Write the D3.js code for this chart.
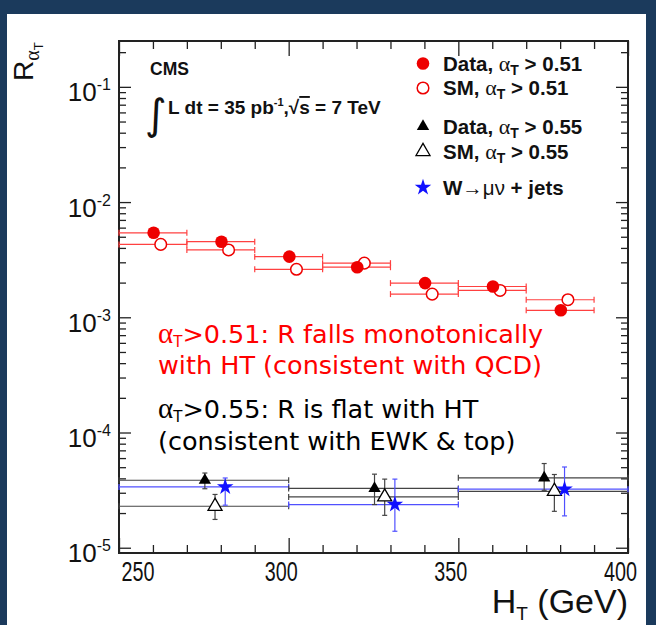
<!DOCTYPE html>
<html>
<head>
<meta charset="utf-8">
<script src="https://cdn.jsdelivr.net/npm/d3@7"></script>
<style>
  body { margin: 0; background: #1b3a5c; }
  svg { display: block; }
</style>
</head>
<body>
<div id="chart"></div>
<script>
// HT binning and R(alphaT) values
const binEdges51 = [250, 270, 290, 310, 330, 350, 370, 390];
const data51 = [5.41e-3, 4.53e-3, 3.36e-3, 2.72e-3, 1.98e-3, 1.85e-3, 1.15e-3];
const sm51 = [4.29e-3, 3.84e-3, 2.61e-3, 2.95e-3, 1.59e-3, 1.71e-3, 1.42e-3];

const binEdges55 = [250, 300, 350, 400];
const data55 = [3.85e-5, 3.27e-5, 4.04e-5];
const data55Hi = [4.45e-5, 4.35e-5, 5.38e-5];
const data55Lo = [3.25e-5, 2.37e-5, 3.15e-5];
const sm55 = [2.29e-5, 2.76e-5, 3.09e-5];
const sm55Hi = [2.90e-5, 3.94e-5, 4.32e-5];
const sm55Lo = [1.76e-5, 1.91e-5, 2.07e-5];
const wjets = [3.37e-5, 2.37e-5, 3.22e-5];
const wjetsHi = [4.03e-5, 3.94e-5, 5.02e-5];
const wjetsLo = [2.34e-5, 1.39e-5, 1.89e-5];

const xTicks = [250, 300, 350, 400];
const yDecades = [1e-5, 1e-4, 1e-3, 1e-2, 1e-1];
const yExponents = ['-5', '-4', '-3', '-2', '-1'];

const legendLabels = [
  {pre: 'Data, ', cut: ' > 0.51'},
  {pre: 'SM, ', cut: ' > 0.51'},
  {pre: 'Data, ', cut: ' > 0.55'},
  {pre: 'SM, ', cut: ' > 0.55'},
  {pre: 'W\u2192\u03bc\u03bd + jets', cut: null}
];

const W = 656, H = 625;
const plot = { left: 119, right: 628, top: 41, bottom: 553 };
const yMin = 9e-6, yMax = 0.25;

const RED = '#ee0000', BLUE = '#1010ff';
const helv = '"Liberation Sans", Arial, Helvetica, sans-serif';
const noteFont = '"DejaVu Sans", Verdana, sans-serif';

const svg = d3.select('#chart').append('svg')
  .attr('width', W)
  .attr('height', H);

// white slide panel
svg.append('rect')
  .attr('x', 7).attr('y', 14)
  .attr('width', 639).attr('height', H - 14)
  .attr('fill', '#fff');

const x = d3.scaleLinear().domain([250, 400]).range([plot.left, plot.right]);
const y = d3.scaleLog().domain([yMin, yMax]).range([plot.bottom, plot.top]);

// minor tick positions
const xMinor = d3.range(260, 400, 10).filter(v => v % 50 !== 0);
const yMinor = [];
for (let e = -6; e <= -1; e++) {
  for (let k = 2; k <= 9; k++) {
    const v = k * Math.pow(10, e);
    if (v > yMin && v < yMax) yMinor.push(v);
  }
}

function drawAxis(axis, transform) {
  const g = svg.append('g').attr('transform', transform).call(axis);
  g.select('.domain').remove();
  g.selectAll('.tick line').attr('stroke', '#222').attr('stroke-width', 1.3);
  return g;
}

// bottom axis
const xAxisGroup = drawAxis(
  d3.axisBottom(x).tickValues(xTicks).tickSize(-15).tickPadding(8).tickFormat(d3.format('d')),
  `translate(0,${plot.bottom})`);
drawAxis(d3.axisBottom(x).tickValues(xMinor).tickSize(-8).tickFormat(''), `translate(0,${plot.bottom})`);

xAxisGroup.selectAll('text')
  .attr('fill', '#111')
  .style('font-family', helv)
  .style('font-size', '28px')
  .attr('textLength', 33)
  .attr('lengthAdjust', 'spacingAndGlyphs')
  .attr('text-anchor', (d, i) => i === 0 ? 'start' : 'middle')
  .attr('dx', (d, i) => i === 0 ? 2 : -8);

// top axis (ticks only)
drawAxis(d3.axisTop(x).tickValues(xTicks).tickSize(-15).tickFormat(''), `translate(0,${plot.top})`);
drawAxis(d3.axisTop(x).tickValues(xMinor).tickSize(-8).tickFormat(''), `translate(0,${plot.top})`);

// left axis
const yAxisGroup = drawAxis(
  d3.axisLeft(y).tickValues(yDecades).tickSize(-12).tickPadding(8).tickFormat(''),
  `translate(${plot.left},0)`);
drawAxis(d3.axisLeft(y).tickValues(yMinor).tickSize(-7).tickFormat(''), `translate(${plot.left},0)`);

yAxisGroup.selectAll('text').each(function(d, i) {
  const t = d3.select(this)
    .attr('dy', null)
    .attr('y', 14)
    .attr('x', -8)
    .attr('text-anchor', 'end')
    .attr('fill', '#111')
    .style('font-family', helv);
  t.append('tspan').style('font-size', '26px').text('10');
  t.append('tspan').style('font-size', '16px').attr('dy', -11).text(yExponents[i]);
});

// right axis (ticks only)
drawAxis(d3.axisRight(y).tickValues(yDecades).tickSize(-12).tickFormat(''), `translate(${plot.right},0)`);
drawAxis(d3.axisRight(y).tickValues(yMinor).tickSize(-7).tickFormat(''), `translate(${plot.right},0)`);

// frame
svg.append('rect')
  .attr('x', plot.left).attr('y', plot.top)
  .attr('width', plot.right - plot.left).attr('height', plot.bottom - plot.top)
  .attr('fill', 'none')
  .attr('stroke', '#222')
  .attr('stroke-width', 2);

// axis titles
const xTitle = svg.append('text')
  .attr('x', plot.right).attr('y', 613)
  .attr('text-anchor', 'end')
  .attr('fill', '#111')
  .style('font-family', helv)
  .style('font-size', '34px');
xTitle.append('tspan').text('H');
xTitle.append('tspan').attr('dy', 7).style('font-size', '19px').text('T');
xTitle.append('tspan').attr('dy', -7).text(' (GeV)');

const yTitle = svg.append('text')
  .attr('transform', 'translate(33,81) rotate(-90)')
  .attr('text-anchor', 'start')
  .attr('fill', '#111')
  .style('font-family', helv)
  .style('font-size', '28px');
yTitle.append('tspan').text('R');
yTitle.append('tspan').attr('dy', 6).style('font-size', '20px')
  .style('font-family', '"Liberation Serif", serif').text('\u03b1');
yTitle.append('tspan').attr('dy', 4).style('font-size', '13px').text('T');

// ---- error bars and markers ----
const layer = svg.append('g');

function hBar(lo, hi, v, color, width) {
  const yy = y(v);
  layer.append('line')
    .attr('x1', x(lo)).attr('x2', x(hi)).attr('y1', yy).attr('y2', yy)
    .attr('stroke', color).attr('stroke-width', width);
  [lo, hi].forEach(e => {
    layer.append('line')
      .attr('x1', x(e)).attr('x2', x(e)).attr('y1', yy - 3).attr('y2', yy + 3)
      .attr('stroke', color).attr('stroke-width', width);
  });
}

function vBar(xv, lo, hi, color) {
  layer.append('line')
    .attr('x1', x(xv)).attr('x2', x(xv)).attr('y1', y(lo)).attr('y2', y(hi))
    .attr('stroke', color).attr('stroke-width', 1.2);
  [lo, hi].forEach(e => {
    layer.append('line')
      .attr('x1', x(xv) - 2.5).attr('x2', x(xv) + 2.5).attr('y1', y(e)).attr('y2', y(e))
      .attr('stroke', color).attr('stroke-width', 1.2);
  });
}

const triangle = d3.symbol().type(d3.symbolTriangle);
const star = d3.symbol().type(d3.symbolStar).size(85);

// alphaT > 0.51 series
const bins51 = data51.map((v, i) => ({ lo: binEdges51[i], hi: binEdges51[i + 1], data: v, sm: sm51[i] }));
bins51.forEach(b => {
  hBar(b.lo, b.hi, b.data, '#ff4040', 1.2);
  hBar(b.lo, b.hi, b.sm, '#ff4040', 1.2);
});
layer.selectAll('.sm51')
  .data(bins51)
  .join('circle')
  .attr('class', 'sm51')
  .attr('cx', d => x((d.lo + d.hi) / 2 + 2.3))
  .attr('cy', d => y(d.sm))
  .attr('r', 5.8)
  .attr('fill', '#fff')
  .attr('stroke', RED)
  .attr('stroke-width', 1.5);
layer.selectAll('.data51')
  .data(bins51)
  .join('circle')
  .attr('class', 'data51')
  .attr('cx', d => x((d.lo + d.hi) / 2 + 0.2))
  .attr('cy', d => y(d.data))
  .attr('r', 6.3)
  .attr('fill', RED);

// alphaT > 0.55 series and W -> mu nu
const bins55 = data55.map((v, i) => ({
  lo: binEdges55[i], hi: binEdges55[i + 1], c: (binEdges55[i] + binEdges55[i + 1]) / 2,
  data: v, dataHi: data55Hi[i], dataLo: data55Lo[i],
  sm: sm55[i], smHi: sm55Hi[i], smLo: sm55Lo[i],
  w: wjets[i], wHi: wjetsHi[i], wLo: wjetsLo[i]
}));
bins55.forEach(b => {
  hBar(b.lo, b.hi, b.data, '#444', 1.2);
  hBar(b.lo, b.hi, b.sm, '#444', 1.2);
  hBar(b.lo, b.hi, b.w, '#5050ff', 1.3);
  vBar(b.c + 0.3, b.dataLo, b.dataHi, '#444');
  vBar(b.c + 3.3, b.smLo, b.smHi, '#444');
  vBar(b.c + 6.3, b.wLo, b.wHi, '#5050ff');
});
layer.selectAll('.data55')
  .data(bins55)
  .join('path')
  .attr('class', 'data55')
  .attr('transform', d => `translate(${x(d.c + 0.3)},${y(d.data)})`)
  .attr('d', triangle.size(66)())
  .attr('fill', '#000');
layer.selectAll('.sm55')
  .data(bins55)
  .join('path')
  .attr('class', 'sm55')
  .attr('transform', d => `translate(${x(d.c + 3.3)},${y(d.sm)})`)
  .attr('d', triangle.size(85)())
  .attr('fill', '#fff')
  .attr('stroke', '#000')
  .attr('stroke-width', 1.3);
layer.selectAll('.wjets')
  .data(bins55)
  .join('path')
  .attr('class', 'wjets')
  .attr('transform', d => `translate(${x(d.c + 6.3)},${y(d.w)})`)
  .attr('d', star())
  .attr('fill', BLUE);

// ---- legend ----
const legendRows = [63.5, 88, 126.5, 151.5, 187.5];
const legend = svg.append('g');
legend.append('circle').attr('cx', 423).attr('cy', legendRows[0]).attr('r', 6.3).attr('fill', RED);
legend.append('circle').attr('cx', 423).attr('cy', legendRows[1]).attr('r', 5.8)
  .attr('fill', '#fff').attr('stroke', RED).attr('stroke-width', 1.5);
legend.append('path').attr('transform', `translate(423,${legendRows[2]})`)
  .attr('d', triangle.size(66)()).attr('fill', '#000');
legend.append('path').attr('transform', `translate(423,${legendRows[3]})`)
  .attr('d', triangle.size(85)()).attr('fill', '#fff').attr('stroke', '#000').attr('stroke-width', 1.3);
legend.append('path').attr('transform', `translate(423,${legendRows[4]})`)
  .attr('d', star()).attr('fill', BLUE);

legendLabels.forEach((l, i) => {
  const t = legend.append('text')
    .attr('x', 443).attr('y', legendRows[i] + 7)
    .attr('fill', '#111')
    .style('font-family', helv)
    .style('font-weight', 'bold')
    .style('font-size', '20.5px');
  if (l.cut === null) {
    t.append('tspan').text('W');
    t.append('tspan').style('font-weight', 'normal').text('\u2192\u03bc\u03bd');
    t.append('tspan').text(' + jets');
  } else {
    t.append('tspan').text(l.pre);
    t.append('tspan').style('font-weight', 'normal').style('font-family', '"Liberation Serif", serif')
      .style('font-size', '22px').text('\u03b1');
    t.append('tspan').attr('dy', 4).style('font-size', '14px').text('T');
    t.append('tspan').attr('dy', -4).text(l.cut);
  }
});

// ---- CMS label ----
svg.append('text')
  .attr('x', 150).attr('y', 75)
  .attr('fill', '#111')
  .style('font-family', helv).style('font-weight', 'bold').style('font-size', '17.5px')
  .text('CMS');
svg.append('text')
  .attr('x', 145).attr('y', 129)
  .attr('fill', '#111')
  .style('font-family', '"DejaVu Sans", sans-serif').style('font-size', '42px')
  .text('\u222b');
const lumi = svg.append('text')
  .attr('x', 168).attr('y', 114)
  .attr('fill', '#111')
  .style('font-family', helv).style('font-weight', 'bold').style('font-size', '19px');
lumi.append('tspan').text('L dt = 35 pb');
lumi.append('tspan').attr('dy', -8).style('font-size', '11px').text('-1');
lumi.append('tspan').attr('dy', 8).text(',\u221a');
lumi.append('tspan').style('text-decoration', 'overline').text('s');
lumi.append('tspan').text(' = 7 TeV');

// ---- slide annotations ----
const notes = [
  { y: 343, color: '#ff0000', alpha: true, text: '>0.51: R falls monotonically' },
  { y: 374, color: '#ff0000', alpha: false, text: 'with HT (consistent with QCD)' },
  { y: 418, color: '#000', alpha: true, text: '>0.55: R is flat with HT' },
  { y: 450, color: '#000', alpha: false, text: '(consistent with EWK & top)' }
];
notes.forEach(n => {
  const t = svg.append('text')
    .attr('x', 158).attr('y', n.y)
    .attr('fill', n.color)
    .style('font-family', noteFont)
    .style('font-size', '25.5px');
  if (n.alpha) {
    t.append('tspan').style('font-family', '"Liberation Serif", serif').style('font-size', '29px').text('\u03b1');
    t.append('tspan').attr('dy', 4).style('font-size', '15px').text('T');
    t.append('tspan').attr('dy', -4).text(n.text);
  } else {
    t.text(n.text);
  }
});
</script>
</body>
</html>
